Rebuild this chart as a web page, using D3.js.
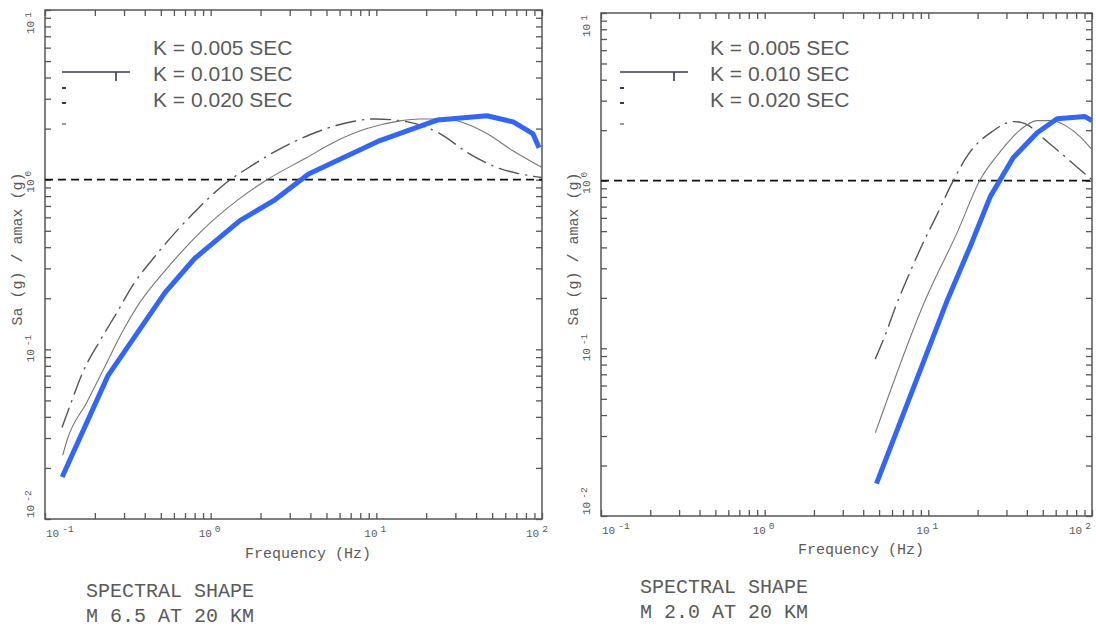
<!DOCTYPE html>
<html>
<head>
<meta charset="utf-8">
<script src="https://cdn.jsdelivr.net/npm/d3@7"></script>
<style>
  body { margin: 0; background: #fff; }
  svg { display: block; }
  .axisText { font-family: "Liberation Mono", "DejaVu Sans Mono", monospace; fill: #5a5a5a; }
  .legendText { font-family: "Liberation Sans", Arial, sans-serif; font-size: 21px; fill: #5a5a5a; }
  .tick line { stroke: #555; stroke-width: 1.3; }
</style>
</head>
<body>
<div id="chart"></div>
<script>
// ---- data (frequency in Hz, Sa/amax) ----

// M 6.5 at 20 km
var m65K005Freq = [0.127, 0.24, 0.53, 0.8, 1.5, 2.4, 3.9, 10.5, 23.5, 46.5, 67, 88, 96];
var m65K005Sa   = [0.0177, 0.070, 0.216, 0.343, 0.574, 0.752, 1.08, 1.70, 2.25, 2.38, 2.19, 1.87, 1.54];

var m65K010Freq = [0.128, 0.136, 0.179, 0.224, 0.296, 0.374, 0.545, 0.861, 1.44, 2.19, 3.81, 5.47, 8.78, 13.9, 18.3, 26.7, 35.2, 46.5, 66.7, 100];
var m65K010Sa   = [0.0238, 0.0292, 0.0488, 0.0752, 0.129, 0.189, 0.30, 0.488, 0.752, 1.0, 1.35, 1.65, 2.0, 2.22, 2.28, 2.28, 2.13, 1.87, 1.48, 1.18];

var m65K020Freq = [0.127, 0.144, 0.169, 0.212, 0.272, 0.345, 0.455, 0.618, 0.849, 1.20, 1.77, 2.62, 3.97, 6.2, 9.8, 15.5, 24.2, 35.7, 53.5, 82.2, 100];
var m65K020Sa   = [0.0348, 0.0488, 0.0732, 0.110, 0.165, 0.245, 0.348, 0.494, 0.684, 0.934, 1.21, 1.52, 1.84, 2.13, 2.28, 2.19, 1.87, 1.44, 1.18, 1.06, 1.03];

// M 2.0 at 20 km
var m20K005Freq = [4.82, 13.1, 18.0, 23.9, 33.0, 46.2, 61.2, 90.6, 100];
var m20K005Sa   = [0.0156, 0.195, 0.404, 0.803, 1.37, 1.93, 2.34, 2.41, 2.28];

var m20K010Freq = [4.75, 9.6, 15.0, 20.7, 27.5, 36.4, 46.2, 57.0, 70.5, 84.5, 100];
var m20K010Sa   = [0.0314, 0.195, 0.49, 1.01, 1.49, 2.01, 2.28, 2.28, 2.10, 1.83, 1.53];

var m20K020Freq = [4.75, 5.40, 6.38, 7.66, 9.18, 11.3, 14.0, 17.5, 24.5, 33.0, 37.4, 54.0, 75.5, 100];
var m20K020Sa   = [0.0868, 0.117, 0.182, 0.279, 0.415, 0.627, 0.973, 1.43, 1.96, 2.25, 2.22, 1.69, 1.28, 1.01];

// legend + labels
var legendLabels = ["K = 0.005 SEC", "K = 0.010 SEC", "K = 0.020 SEC"];
var xDecades = [-1, 0, 1, 2];
var yDecades = [-2, -1, 0, 1];
var refLevel = 1.0;

var width = 1096, height = 627;

var svg = d3.select("#chart")
  .append("svg")
  .attr("width", width)
  .attr("height", height);

// panel boxes (pixel layout of each plot frame)
var panels = [
  {
    id: "m65", left: 45, right: 542, top: 10, bottom: 519,
    title: ["SPECTRAL SHAPE", "M 6.5 AT 20 KM"], titleX: 86, titleY: 597,
    legendX: 62, legendTextX: 153,
    xLabelX: 308, xLabelY: 558, lastShift: 16,
    k005: [m65K005Freq, m65K005Sa], k010: [m65K010Freq, m65K010Sa], k020: [m65K020Freq, m65K020Sa]
  },
  {
    id: "m20", left: 601, right: 1092, top: 13, bottom: 516,
    title: ["SPECTRAL SHAPE", "M 2.0 AT 20 KM"], titleX: 640, titleY: 593,
    legendX: 620, legendTextX: 710,
    xLabelX: 861, xLabelY: 554, lastShift: 23,
    k005: [m20K005Freq, m20K005Sa], k010: [m20K010Freq, m20K010Sa], k020: [m20K020Freq, m20K020Sa]
  }
];

function zipSeries(pair) {
  return pair[0].map(function(f, i) { return { f: f, v: pair[1][i] }; });
}

panels.forEach(function(p) {
  var g = svg.append("g").attr("class", "panel " + p.id);

  var xScale = d3.scaleLog().domain([0.1, 100]).range([p.left, p.right]);
  var yScale = d3.scaleLog().domain([0.01, 10]).range([p.bottom, p.top]);

  // clip so the thick line stops at the frame
  g.append("clipPath").attr("id", "clip-" + p.id)
    .append("rect")
    .attr("x", p.left).attr("y", p.top)
    .attr("width", p.right - p.left).attr("height", p.bottom - p.top);

  // inward ticks on all four sides
  var xTicks = xScale.ticks();
  var yTicks = yScale.ticks();
  function styleAxis(sel) {
    sel.select(".domain").remove();
    sel.selectAll(".tick line").attr("stroke", "#555").attr("stroke-width", 1.3);
  }
  g.append("g").attr("transform", "translate(0," + p.bottom + ")")
    .call(d3.axisBottom(xScale).tickValues(xTicks).tickSize(-6).tickFormat(""))
    .call(styleAxis);
  g.append("g").attr("transform", "translate(0," + p.top + ")")
    .call(d3.axisTop(xScale).tickValues(xTicks).tickSize(-6).tickFormat(""))
    .call(styleAxis);
  g.append("g").attr("transform", "translate(" + p.left + ",0)")
    .call(d3.axisLeft(yScale).tickValues(yTicks).tickSize(-6).tickFormat(""))
    .call(styleAxis);
  g.append("g").attr("transform", "translate(" + p.right + ",0)")
    .call(d3.axisRight(yScale).tickValues(yTicks).tickSize(-6).tickFormat(""))
    .call(styleAxis);

  // frame
  g.append("rect")
    .attr("x", p.left).attr("y", p.top)
    .attr("width", p.right - p.left).attr("height", p.bottom - p.top)
    .attr("fill", "none").attr("stroke", "#555").attr("stroke-width", 1.5);

  // x decade labels: 10 with superscript
  xDecades.forEach(function(e, i) {
    var t = xScale(Math.pow(10, e));
    var sx = i === 0 ? t + 1 : (i === xDecades.length - 1 ? t - p.lastShift : t - 12);
    var txt = g.append("text").attr("class", "axisText")
      .attr("x", sx).attr("y", p.bottom + 18).attr("font-size", 11);
    txt.append("tspan").text("10");
    txt.append("tspan").attr("dx", 3).attr("dy", -5).attr("font-size", 9.5).text(e);
  });

  // y decade labels, rotated
  yDecades.forEach(function(e, i) {
    var t = yScale(Math.pow(10, e));
    var sy = i === 0 ? t - 1 : (i === yDecades.length - 1 ? t + 24 : t + 13);
    var txt = g.append("text").attr("class", "axisText")
      .attr("transform", "translate(" + (p.left - 11) + "," + sy + ") rotate(-90)")
      .attr("font-size", 11);
    txt.append("tspan").text("10");
    txt.append("tspan").attr("dx", 3).attr("dy", -3).attr("font-size", 9.5).text(e);
  });

  // axis titles
  g.append("text").attr("class", "axisText")
    .attr("x", p.xLabelX).attr("y", p.xLabelY)
    .attr("text-anchor", "middle").attr("font-size", 15)
    .text("Frequency (Hz)");
  g.append("text").attr("class", "axisText")
    .attr("transform", "translate(" + (p.left - 23) + "," + 249 + ") rotate(-90)")
    .attr("text-anchor", "middle").attr("font-size", 15)
    .text("Sa (g) / amax (g)");

  // reference line at Sa/amax = 1
  g.append("line")
    .attr("x1", p.left).attr("x2", p.right)
    .attr("y1", yScale(refLevel)).attr("y2", yScale(refLevel))
    .attr("stroke", "#111").attr("stroke-width", 1.8)
    .attr("stroke-dasharray", "8,5");

  var line = d3.line()
    .x(function(d) { return xScale(d.f); })
    .y(function(d) { return yScale(d.v); });

  var plot = g.append("g").attr("clip-path", "url(#clip-" + p.id + ")");

  // K = 0.020 dash-dot
  plot.append("path")
    .datum(zipSeries(p.k020))
    .attr("d", line.curve(d3.curveMonotoneX))
    .attr("fill", "none").attr("stroke", "#555").attr("stroke-width", 1.4)
    .attr("stroke-linecap", "round")
    .attr("stroke-dasharray", "20,7,1.2,7");

  // K = 0.010 thin solid
  plot.append("path")
    .datum(zipSeries(p.k010))
    .attr("d", line.curve(d3.curveMonotoneX))
    .attr("fill", "none").attr("stroke", "#777").attr("stroke-width", 1.1);

  // K = 0.005 thick blue (piecewise)
  plot.append("path")
    .datum(zipSeries(p.k005))
    .attr("d", line.curve(d3.curveLinear))
    .attr("fill", "none").attr("stroke", "#3366f6").attr("stroke-width", 5)
    .attr("stroke-linejoin", "round");

  // legend samples
  var lg = g.append("g").attr("class", "legend");
  lg.append("path")
    .attr("d", "M" + p.legendX + ",72H" + (p.legendX + 68) + "M" + (p.legendX + 54) + ",72V81")
    .attr("stroke", "#3a3a55").attr("stroke-width", 1.6).attr("fill", "none");
  [88, 103, 124].forEach(function(yy, i) {
    lg.append("rect")
      .attr("x", p.legendX).attr("y", yy - 1)
      .attr("width", 4).attr("height", 2)
      .attr("fill", i === 2 ? "#999" : "#3a3a55");
  });
  legendLabels.forEach(function(lbl, i) {
    lg.append("text").attr("class", "legendText")
      .attr("x", p.legendTextX).attr("y", 55 + i * 26)
      .text(lbl);
  });

  // caption under each plot
  p.title.forEach(function(line, i) {
    g.append("text").attr("class", "axisText")
      .attr("x", p.titleX).attr("y", p.titleY + i * 25)
      .attr("font-size", 20)
      .text(line);
  });
});
</script>
</body>
</html>
